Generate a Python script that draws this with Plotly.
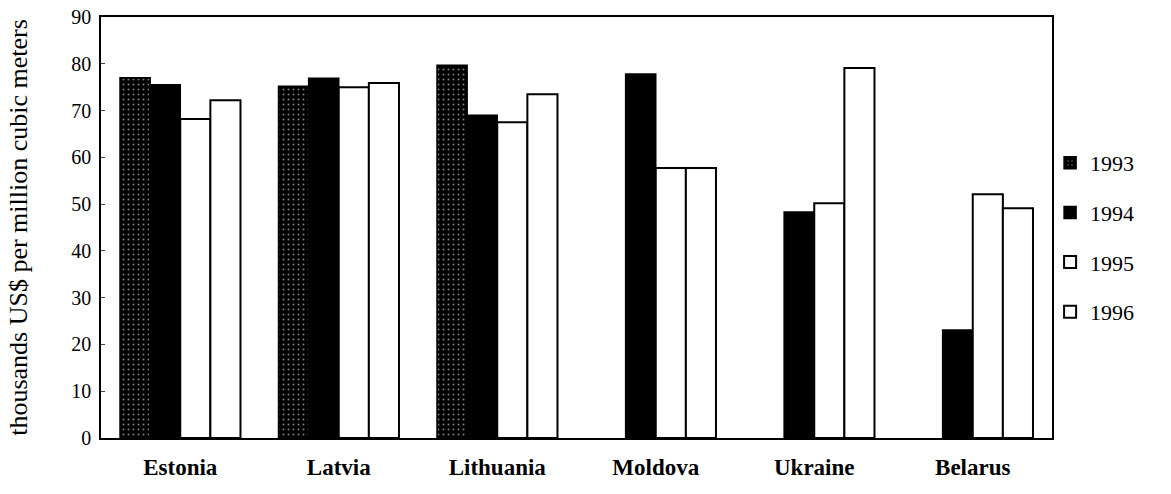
import plotly.graph_objects as go

countries = ["Estonia", "Latvia", "Lithuania", "Moldova", "Ukraine", "Belarus"]
years = ["1993", "1994", "1995", "1996"]
v1993 = [77.0, 75.2, 79.7, None, None, None]
v1994 = [75.5, 76.9, 69.0, 77.8, 48.3, 23.1]
v1995 = [68.2, 75.0, 67.5, 57.7, 50.2, 52.1]
v1996 = [72.2, 75.9, 73.5, 57.7, 79.1, 49.1]
series = [v1993, v1994, v1995, v1996]

fig = go.Figure()
for i, (yr, vals) in enumerate(zip(years, series)):
    if i == 0:
        marker = dict(color="black", line=dict(color="black", width=1.5),
                      pattern=dict(shape=".", fgcolor="white", bgcolor="black",
                                   size=5, solidity=0.12, fillmode="overlay"))
    elif i == 1:
        marker = dict(color="black", line=dict(color="black", width=1.5))
    else:
        marker = dict(color="white", line=dict(color="black", width=2))
    fig.add_trace(go.Bar(name=yr, x=countries, y=vals, marker=marker,
                         legendgroup=yr))

fig.update_layout(
    width=1171, height=494, autosize=False,
    barmode="group", bargap=0.24, bargroupgap=0,
    plot_bgcolor="white", paper_bgcolor="white",
    margin=dict(l=101, r=119, t=17, b=56),
    font=dict(family="Liberation Serif", size=20, color="black"),
    legend=dict(x=0.998, y=0.703, xanchor="left", yanchor="top",
                bgcolor="rgba(0,0,0,0)",
                font=dict(size=22), tracegroupgap=18, traceorder="grouped",
                itemwidth=30),
    showlegend=True,
)
fig.update_xaxes(showline=True, linecolor="black", linewidth=1.5, mirror=True,
                 ticks="", automargin=False,
                 tickfont=dict(size=23, weight="bold"), ticklabelstandoff=8)
fig.update_yaxes(range=[0, 90], dtick=10, showline=True, linecolor="black",
                 linewidth=1.5, mirror=True, showgrid=False, ticks="inside",
                 ticklen=4, tickfont=dict(size=20), automargin=False,
                 ticklabelstandoff=4,
                 title=dict(text="thousands US$ per million cubic meters",
                            font=dict(size=26), standoff=36))
fig.write_html("out.html", config={"displayModeBar": False},
               post_script="document.body.style.margin='0';")
